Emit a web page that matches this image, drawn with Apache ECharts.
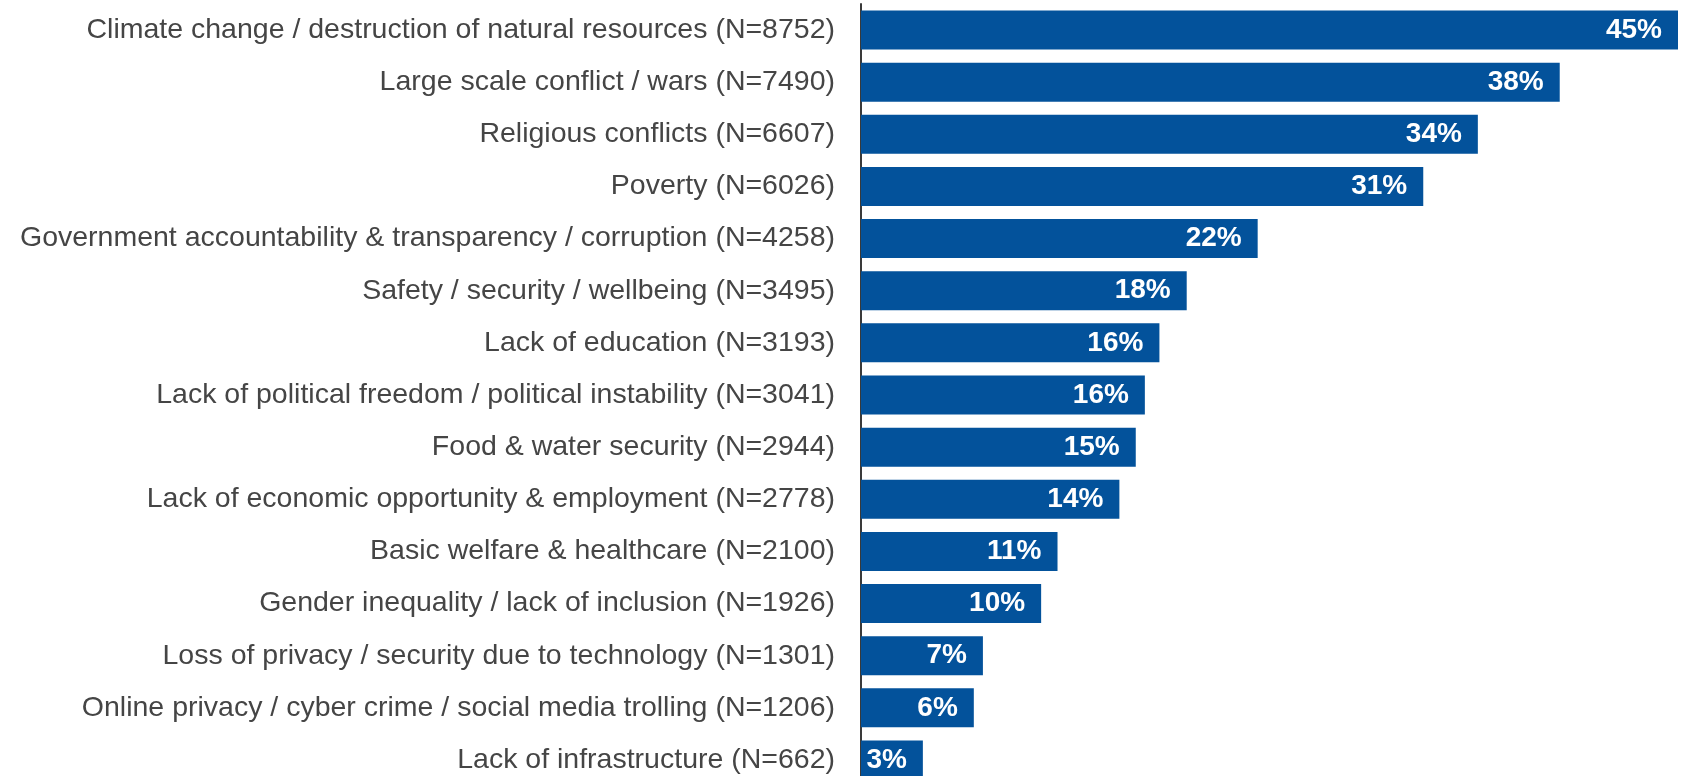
<!DOCTYPE html>
<html>
<head>
<meta charset="utf-8">
<script src="https://cdn.jsdelivr.net/npm/echarts@6/dist/echarts.min.js"></script>
<style>
html,body{margin:0;padding:0;background:#fff;overflow:hidden;}
#chart{width:1682px;height:800px;}
</style>
</head>
<body>
<div id="chart"></div>
<script>
const categories = [
  "Climate change / destruction of natural resources (N=8752)",
  "Large scale conflict / wars (N=7490)",
  "Religious conflicts (N=6607)",
  "Poverty (N=6026)",
  "Government accountability & transparency / corruption (N=4258)",
  "Safety / security / wellbeing (N=3495)",
  "Lack of education (N=3193)",
  "Lack of political freedom / political instability (N=3041)",
  "Food & water security (N=2944)",
  "Lack of economic opportunity & employment (N=2778)",
  "Basic welfare & healthcare (N=2100)",
  "Gender inequality / lack of inclusion (N=1926)",
  "Loss of privacy / security due to technology (N=1301)",
  "Online privacy / cyber crime / social media trolling (N=1206)",
  "Lack of infrastructure (N=662)"
];
const values = [44.9, 38.4, 33.9, 30.9, 21.8, 17.9, 16.4, 15.6, 15.1, 14.2, 10.8, 9.9, 6.7, 6.2, 3.4];

const chart = echarts.init(document.getElementById('chart'), null, {renderer: 'canvas', width: 1682, height: 800});
chart.setOption({
  animation: false,
  grid: {left: 861, top: 4, height: 782, width: 817, containLabel: false},
  xAxis: {
    type: 'value', min: 0, max: 44.9,
    show: false
  },
  yAxis: {
    type: 'category', data: categories, inverse: true,
    axisLine: {show: true, lineStyle: {color: '#3a3a3a', width: 2}},
    axisTick: {show: false},
    axisLabel: {margin: 26, color: '#454545', fontSize: 28.5, fontFamily: 'Liberation Sans, Arial, sans-serif'}
  },
  series: [{
    type: 'bar', data: values, barWidth: 39,
    itemStyle: {color: '#03529b'},
    label: {
      show: true, position: 'insideRight', distance: 16,
      color: '#fff', fontSize: 28, fontWeight: 'bold',
      fontFamily: 'Liberation Sans, Arial, sans-serif',
      formatter: p => Math.round(p.value) + '%'
    }
  }]
});
</script>
</body>
</html>
